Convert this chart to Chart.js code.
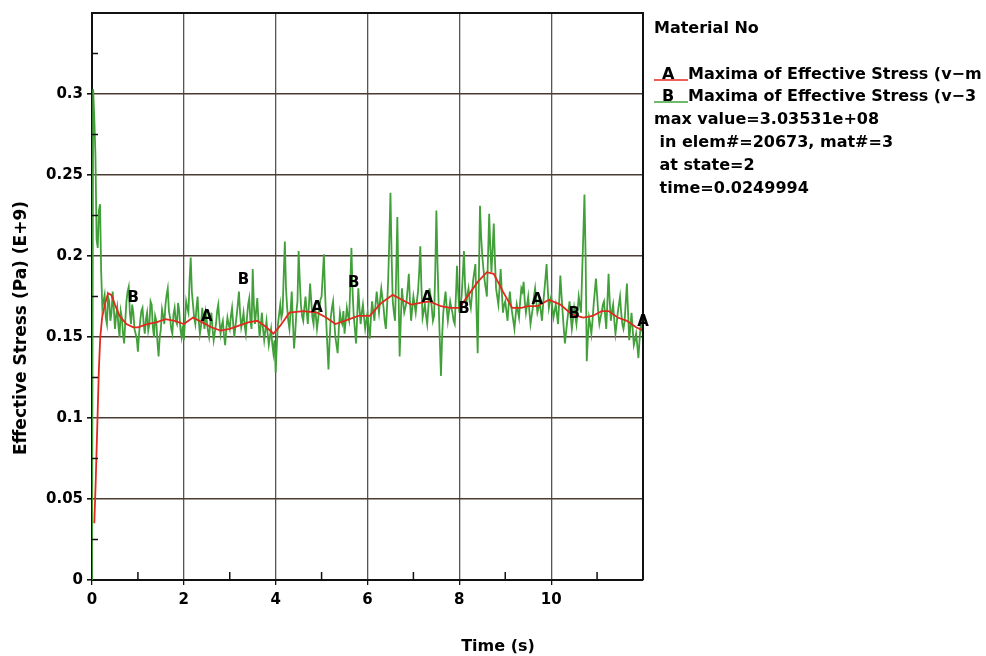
<!DOCTYPE html>
<html>
<head>
<meta charset="utf-8">
<title>Effective Stress</title>
<script src="https://cdn.jsdelivr.net/npm/chart.js@4.4.1/dist/chart.umd.min.js"></script>
<style>
    html, body { margin: 0; padding: 0; background: #ffffff; }
    canvas { display: block; }
</style>
</head>
<body>
<canvas id="stressChart" width="986" height="656"></canvas>
<script>
// Sampling interval of the v-3 history (s)
const sampleStep = 0.025;

// B: Maxima of Effective Stress (v-3), one value per sample (E+9 Pa)
const stressV3 = [
    0.0, 0.303, 0.285, 0.262, 0.21, 0.205, 0.228, 0.232, 0.19, 0.168, 0.172, 0.176, 0.162, 0.158, 0.175, 0.172, 0.16, 0.165, 0.178, 0.168,
    0.155, 0.163, 0.168, 0.157, 0.15, 0.166, 0.162, 0.152, 0.146, 0.16, 0.172, 0.178, 0.181, 0.165, 0.158, 0.17, 0.165, 0.155, 0.152, 0.149,
    0.141, 0.152, 0.16, 0.166, 0.168, 0.158, 0.152, 0.161, 0.165, 0.154, 0.158, 0.172, 0.17, 0.156, 0.15, 0.163, 0.16, 0.147, 0.138, 0.15,
    0.155, 0.167, 0.163, 0.158, 0.17, 0.176, 0.18, 0.166, 0.162, 0.155, 0.152, 0.164, 0.168, 0.16, 0.158, 0.171, 0.166, 0.155, 0.15, 0.157,
    0.148, 0.16, 0.172, 0.168, 0.165, 0.185, 0.199, 0.178, 0.17, 0.162, 0.158, 0.168, 0.175, 0.16, 0.152, 0.157, 0.168, 0.162, 0.155, 0.165,
    0.16, 0.154, 0.15, 0.158, 0.165, 0.155, 0.148, 0.153, 0.158, 0.166, 0.17, 0.16, 0.152, 0.157, 0.16, 0.151, 0.145, 0.155, 0.162, 0.158,
    0.155, 0.163, 0.168, 0.158, 0.15, 0.157, 0.163, 0.17, 0.178, 0.165, 0.156, 0.16, 0.165, 0.157, 0.152, 0.162, 0.17, 0.174, 0.16, 0.155,
    0.192, 0.17, 0.158, 0.166, 0.174, 0.16, 0.15, 0.157, 0.165, 0.155, 0.148, 0.154, 0.16, 0.152, 0.145, 0.15, 0.155, 0.146, 0.14, 0.148,
    0.128, 0.145, 0.158, 0.164, 0.17, 0.162, 0.165, 0.188, 0.209, 0.18, 0.168, 0.16, 0.155, 0.166, 0.178, 0.16, 0.143, 0.152, 0.165, 0.172,
    0.203, 0.185, 0.17, 0.163, 0.16, 0.168, 0.175, 0.166, 0.158, 0.17, 0.183, 0.172, 0.162, 0.158, 0.17, 0.163, 0.155, 0.161, 0.168, 0.173,
    0.175, 0.188, 0.201, 0.178, 0.16, 0.145, 0.13, 0.148, 0.162, 0.168, 0.172, 0.16, 0.15, 0.145, 0.14, 0.155, 0.165, 0.16, 0.158, 0.166,
    0.152, 0.16, 0.168, 0.163, 0.16, 0.182, 0.205, 0.178, 0.163, 0.155, 0.146, 0.162, 0.18, 0.168, 0.158, 0.165, 0.17, 0.162, 0.155, 0.16,
    0.165, 0.156, 0.149, 0.162, 0.172, 0.166, 0.16, 0.17, 0.178, 0.171, 0.165, 0.173, 0.18, 0.174, 0.168, 0.16, 0.155, 0.168, 0.185, 0.21,
    0.239, 0.2, 0.172, 0.165, 0.16, 0.19, 0.224, 0.18, 0.138, 0.16, 0.18, 0.172, 0.165, 0.168, 0.172, 0.18, 0.189, 0.172, 0.16, 0.168,
    0.175, 0.17, 0.165, 0.172, 0.178, 0.19, 0.206, 0.18, 0.162, 0.166, 0.17, 0.163, 0.158, 0.168, 0.18, 0.175, 0.168, 0.16, 0.163, 0.19,
    0.228, 0.195, 0.17, 0.148, 0.126, 0.15, 0.165, 0.172, 0.178, 0.168, 0.16, 0.166, 0.172, 0.168, 0.165, 0.16, 0.158, 0.175, 0.194, 0.178,
    0.165, 0.17, 0.175, 0.188, 0.203, 0.182, 0.17, 0.176, 0.18, 0.172, 0.168, 0.176, 0.185, 0.19, 0.195, 0.165, 0.14, 0.185, 0.231, 0.212,
    0.2, 0.192, 0.185, 0.18, 0.175, 0.2, 0.226, 0.205, 0.19, 0.205, 0.22, 0.198, 0.18, 0.175, 0.17, 0.18, 0.192, 0.178, 0.165, 0.17,
    0.172, 0.166, 0.16, 0.17, 0.178, 0.17, 0.165, 0.16, 0.155, 0.163, 0.17, 0.166, 0.162, 0.172, 0.18, 0.178, 0.184, 0.172, 0.165, 0.17,
    0.175, 0.166, 0.158, 0.163, 0.168, 0.175, 0.18, 0.172, 0.165, 0.168, 0.172, 0.166, 0.16, 0.17, 0.178, 0.186, 0.195, 0.18, 0.168, 0.172,
    0.175, 0.168, 0.162, 0.166, 0.17, 0.164, 0.158, 0.172, 0.188, 0.176, 0.165, 0.155, 0.146, 0.153, 0.16, 0.166, 0.172, 0.163, 0.155, 0.161,
    0.168, 0.163, 0.158, 0.166, 0.175, 0.17, 0.165, 0.19, 0.213, 0.238, 0.2, 0.135, 0.15, 0.162, 0.158, 0.152, 0.16, 0.17, 0.178, 0.186,
    0.176, 0.165, 0.158, 0.162, 0.165, 0.17, 0.172, 0.163, 0.155, 0.172, 0.189, 0.172, 0.16, 0.166, 0.17, 0.16, 0.152, 0.158, 0.165, 0.17,
    0.175, 0.165, 0.158, 0.155, 0.16, 0.172, 0.183, 0.165, 0.148, 0.156, 0.165, 0.155, 0.145, 0.148, 0.152, 0.145, 0.137, 0.148, 0.158, 0.155,
    0.16
];

// A: Maxima of Effective Stress (v-m)
const timesVm = [
    0.05, 0.08, 0.1, 0.12, 0.15, 0.18, 0.22, 0.28, 0.35, 0.42,
    0.5, 0.6, 0.75, 0.9, 1.0, 1.2, 1.4, 1.6, 1.8, 2.0,
    2.2, 2.4, 2.6, 2.8, 3.0, 3.2, 3.4, 3.6, 3.8, 3.95,
    4.1, 4.3, 4.6, 4.9, 5.1, 5.3, 5.5, 5.8, 6.05, 6.3,
    6.55, 6.75, 6.95, 7.15, 7.35, 7.6, 7.8, 8.0, 8.2, 8.4,
    8.6, 8.75, 8.95, 9.15, 9.35, 9.5, 9.7, 9.95, 10.2, 10.45,
    10.7, 10.9, 11.1, 11.25, 11.45, 11.65, 11.85, 12.0
];
const stressVm = [
    0.035, 0.06, 0.08, 0.1, 0.13, 0.15, 0.162, 0.17, 0.177, 0.176,
    0.17, 0.163, 0.158, 0.156, 0.156, 0.158, 0.159, 0.161, 0.16, 0.158,
    0.162, 0.159, 0.156, 0.154, 0.155, 0.157, 0.159, 0.16, 0.156, 0.152,
    0.157, 0.165, 0.166, 0.165, 0.162, 0.158, 0.16, 0.163, 0.163, 0.171,
    0.176, 0.173, 0.17, 0.171, 0.172, 0.169, 0.168, 0.168, 0.176, 0.184,
    0.19, 0.189, 0.178, 0.168, 0.168, 0.169, 0.169, 0.173, 0.17, 0.164,
    0.162, 0.163, 0.166, 0.166, 0.162, 0.16, 0.156, 0.154
];

// Curve tags (A / B letters along each curve)
const tagTimesA = [2.5, 4.9, 7.3, 9.7, 12.0];
const tagLevelsA = [0.162, 0.168, 0.174, 0.173, 0.159];
const tagTimesB = [0.9, 3.3, 5.7, 8.1, 10.5];
const tagLevelsB = [0.174, 0.185, 0.183, 0.167, 0.164];

// Axis ticks
const xTickValues = [0, 2, 4, 6, 8, 10];
const xMinorTicks = [1, 3, 5, 7, 9, 11];
const yTickValues = [0, 0.05, 0.1, 0.15, 0.2, 0.25, 0.3];
const yMinorTicks = [0.025, 0.075, 0.125, 0.175, 0.225, 0.275, 0.325];

// Info block on the right
const infoTitle = 'Material No';
const seriesNames = ['Maxima of Effective Stress (v\u2212m', 'Maxima of Effective Stress (v\u22123'];
const infoLines = ['max value=3.03531e+08', ' in elem#=20673, mat#=3', ' at state=2', ' time=0.0249994'];

const RED = '#e02a1f';
const GREEN = '#42a03a';
const BOLD = 'bold 15px "DejaVu Sans", Verdana, sans-serif';
const BOLD16 = 'bold 16px "DejaVu Sans", Verdana, sans-serif';

document.addEventListener('DOMContentLoaded', function() {
    initStressChart();
});

function initStressChart() {
    const ctx = document.getElementById('stressChart').getContext('2d');

    const vmPoints = timesVm.map((t, i) => ({ x: t, y: stressVm[i] }));
    const v3Points = stressV3.map((v, i) => ({ x: i * sampleStep, y: v }));

    // Frame, minor ticks, curve tags and the text block
    const framePlugin = {
        id: 'frame',
        afterDraw(chart) {
            const c = chart.ctx;
            const area = chart.chartArea;
            const xs = chart.scales.x;
            const ys = chart.scales.y;

            c.save();
            c.strokeStyle = '#111';
            c.lineWidth = 2;
            c.beginPath();
            c.moveTo(area.left, area.top);
            c.lineTo(area.right, area.top);
            c.lineTo(area.right, area.bottom);
            c.stroke();

            // minor ticks point inward
            c.lineWidth = 1.5;
            c.beginPath();
            xMinorTicks.forEach(v => {
                const px = xs.getPixelForValue(v);
                c.moveTo(px, area.bottom);
                c.lineTo(px, area.bottom - 8);
            });
            yMinorTicks.forEach(v => {
                const py = ys.getPixelForValue(v);
                c.moveTo(area.left, py);
                c.lineTo(area.left + 6, py);
            });
            c.stroke();

            // A / B tags on the curves
            c.fillStyle = '#000';
            c.font = BOLD;
            c.textAlign = 'center';
            c.textBaseline = 'middle';
            tagTimesA.forEach((t, i) => {
                c.fillText('A', xs.getPixelForValue(t), ys.getPixelForValue(tagLevelsA[i]));
            });
            tagTimesB.forEach((t, i) => {
                c.fillText('B', xs.getPixelForValue(t), ys.getPixelForValue(tagLevelsB[i]));
            });

            // axis titles, centred on the canvas
            c.font = BOLD16;
            c.textBaseline = 'alphabetic';
            c.fillText('Time (s)', chart.width / 2 + 5, 651);
            c.save();
            c.translate(26, chart.height / 2);
            c.rotate(-Math.PI / 2);
            c.font = 'bold 17px "DejaVu Sans", Verdana, sans-serif';
            c.fillText('Effective Stress (Pa) (E+9)', 0, 0);
            c.restore();

            // info block
            const left = area.right + 11;
            c.textAlign = 'left';
            c.font = BOLD16;
            c.fillText(infoTitle, left, 33);

            const rows = [79, 101];
            const colours = [RED, GREEN];
            ['A', 'B'].forEach((letter, i) => {
                c.strokeStyle = colours[i];
                c.lineWidth = 1.5;
                c.beginPath();
                c.moveTo(left, rows[i] + 1);
                c.lineTo(left + 34, rows[i] + 1);
                c.stroke();
                c.fillText(letter, left + 8, rows[i]);
                c.fillText(seriesNames[i], left + 34, rows[i]);
            });

            infoLines.forEach((line, i) => {
                c.fillText(line, left, 124 + i * 23);
            });
            c.restore();
        }
    };

    new Chart(ctx, {
        type: 'line',
        data: {
            datasets: [{
                label: 'A',
                data: vmPoints,
                borderColor: RED,
                borderWidth: 1.8,
                pointRadius: 0,
                tension: 0,
                fill: false
            }, {
                label: 'B',
                data: v3Points,
                borderColor: GREEN,
                borderWidth: 1.8,
                pointRadius: 0,
                tension: 0,
                fill: false
            }]
        },
        options: {
            responsive: false,
            animation: false,
            devicePixelRatio: 1,
            layout: {
                padding: { left: 0, top: 10, right: 343, bottom: 0 }
            },
            plugins: {
                legend: { display: false },
                tooltip: { enabled: false }
            },
            scales: {
                x: {
                    type: 'linear',
                    min: 0,
                    max: 12,
                    afterBuildTicks: scale => {
                        scale.ticks = xTickValues.map(v => ({ value: v }));
                    },
                    afterFit: scale => { scale.height = 76; },
                    grid: {
                        color: '#555555',
                        lineWidth: 1.3,
                        tickLength: 5,
                        tickColor: '#111'
                    },
                    border: { color: '#111', width: 2 },
                    ticks: {
                        color: '#000',
                        font: { family: '"DejaVu Sans", Verdana, sans-serif', size: 15, weight: 'bold' },
                        padding: 6,
                        maxRotation: 0,
                        callback: v => String(v)
                    }
                },
                y: {
                    min: 0,
                    max: 0.35,
                    afterBuildTicks: scale => {
                        scale.ticks = yTickValues.map(v => ({ value: v }));
                    },
                    afterFit: scale => { scale.width = 92; },
                    grid: {
                        color: '#4a3c32',
                        lineWidth: 1.6,
                        tickLength: 5,
                        tickColor: '#111'
                    },
                    border: { color: '#111', width: 2 },
                    ticks: {
                        color: '#000',
                        font: { family: '"DejaVu Sans", Verdana, sans-serif', size: 15, weight: 'bold' },
                        padding: 4,
                        callback: v => String(Number(v.toFixed(3)))
                    }
                }
            }
        },
        plugins: [framePlugin]
    });
}
</script>
</body>
</html>
